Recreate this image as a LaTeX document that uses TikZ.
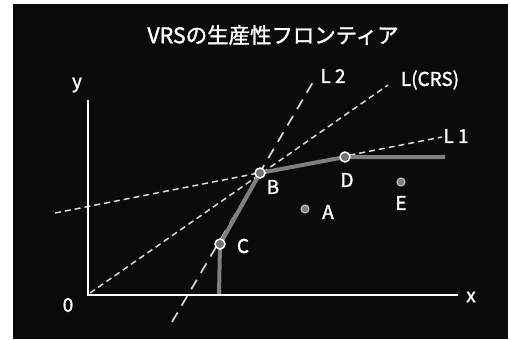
\documentclass[tikz,border=0pt]{standalone}
\usepackage{fontspec}
\setmainfont{Noto Sans CJK JP}
\newfontfamily\lblfont{Noto Sans CJK JP}[FakeBold=1.6]
\begin{document}
\begin{tikzpicture}[x=1bp,y=-1bp,
  lbl/.style={text=white,font=\lblfont\fontsize{19}{21}\selectfont,inner sep=0pt},
  shortdash/.style={draw=black!15,line width=1.5bp,dash pattern=on 6bp off 4bp},
  longdash/.style={draw=black!15,line width=1.7bp,dash pattern=on 11bp off 8bp},
  axis/.style={draw=white,line width=1.6bp},
  frontier/.style={draw=black!50,line width=4bp,line join=round},
  bigpt/.style={circle,fill=black!55,draw=white,line width=1.4bp,minimum size=10bp,inner sep=0pt},
  smallpt/.style={circle,fill=black!50,draw=black!20,line width=1bp,minimum size=8bp,inner sep=0pt}]
\useasboundingbox (0,0) rectangle (510,339);
\fill[white] (0,0) rectangle (510,339);
\fill[black!96] (13,4) rectangle (508,339);
% coordinates
\coordinate (O) at (88,295);
\coordinate (Xend) at (458,295);
\coordinate (Ytop) at (88,100);
\coordinate (Bc) at (260,173);
\coordinate (Cc) at (220,244);
\coordinate (Dc) at (345,157);
\coordinate (Cfoot) at (219,295);
\coordinate (Fend) at (445,157);
\coordinate (L1s) at (55,213);
\coordinate (L1e) at (442,137);
\coordinate (Ls) at (90,293);
\coordinate (Le) at (388,85);
\coordinate (L2s) at (172,322);
\coordinate (L2e) at (313,82);
% dashed lines
\draw[shortdash] (L1s) -- (L1e);
\draw[shortdash] (Ls) -- (Le);
\draw[longdash] (L2s) -- (L2e);
% frontier
\draw[frontier] (Cfoot) -- (Cc) -- (Bc) -- (Dc) -- (Fend);
% axes
\draw[axis] (Ytop) -- (O) -- (Xend);
% points
\node[bigpt] (B) at (Bc) {};
\node[bigpt] (C) at (Cc) {};
\node[bigpt] (D) at (Dc) {};
\node[smallpt] (A) at (305,209) {};
\node[smallpt] (E) at (401,182) {};
% labels
\node[text=white,font=\lblfont\fontsize{21.5}{25}\selectfont,inner sep=0pt] (title) at (273,35) {VRSの生産性フロンティア};
\node[lbl] (tB) at (273,187) {B};
\node[lbl] (tC) at (243,246) {C};
\node[lbl] (tD) at (347,180) {D};
\node[lbl] (tA) at (328,212) {A};
\node[lbl] (tE) at (401,203) {E};
\node[lbl] (tL1) at (456,136) {L 1};
\node[lbl] (tL2) at (333,76) {L 2};
\node[lbl] (tLC) at (430,80) {L(CRS)};
\node[lbl] (tx) at (471,297) {x};
\node[lbl] (ty) at (77,85) {y};
\node[lbl] (t0) at (68,305) {0};
\end{tikzpicture}
\end{document}
